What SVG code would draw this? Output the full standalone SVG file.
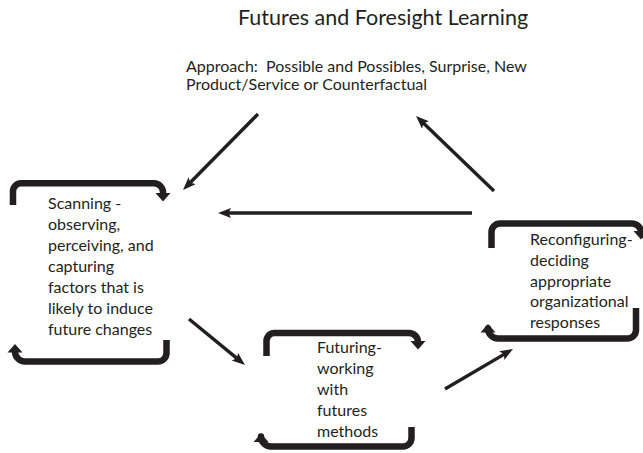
<svg xmlns="http://www.w3.org/2000/svg" width="643" height="453" viewBox="0 0 643 453">
  <style>
    .t { font-family: Lato, "Open Sans", "Liberation Sans", sans-serif; fill: #231f20; }
    .title { font-size: 21.5px; }
    .body { font-size: 16px; }
    .app { font-size: 16px; white-space: pre; }
    .br { fill: none; stroke: #231f20; stroke-width: 6.5; stroke-linecap: butt; stroke-linejoin: round; }
    .bh { fill: #231f20; }
    .c { stroke: #231f20; stroke-width: 3.4; fill: none; }
  </style>
  <defs>
    <marker id="ah" markerUnits="userSpaceOnUse" markerWidth="14" markerHeight="11" refX="5" refY="5" orient="auto">
      <path d="M0,0 L13,5 L0,10 L2.5,5 Z" fill="#231f20"/>
    </marker>
  </defs>
  <rect width="643" height="453" fill="#ffffff"/>

  <g id="title">
    <text class="t title" x="238" y="25">Futures and Foresight Learning</text>
  </g>
  <g id="approach">
    <text class="t app" x="186" y="72">Approach:  Possible and Possibles, Surprise, New</text>
    <text class="t app" x="186" y="90">Product/Service or Counterfactual</text>
  </g>

  <g id="scanning">
    <path class="br" d="M13,205 V191 A8,8 0 0 1 21,183.3 H154 A9,9 0 0 1 163,192.3 V194"/>
    <polygon class="bh" points="155.5,193 170.5,193 163,201.5"/>
    <path class="br" d="M166.5,340 V353 A8.5,8.5 0 0 1 158,361.5 H25 A10,10 0 0 1 15,351.5 V351"/>
    <polygon class="bh" points="7.5,352.5 22.5,352.5 15,344"/>
    <text class="t body" x="48" y="209">Scanning -</text>
    <text class="t body" x="48" y="230">observing,</text>
    <text class="t body" x="48" y="251">perceiving, and</text>
    <text class="t body" x="48" y="272">capturing</text>
    <text class="t body" x="48" y="293">factors that is</text>
    <text class="t body" x="48" y="314">likely to induce</text>
    <text class="t body" x="48" y="335">future changes</text>
  </g>

  <g id="futuring">
    <path class="br" d="M266.5,356 V341 A8,8 0 0 1 274.5,333 H409 A9,9 0 0 1 418,342 V342"/>
    <polygon class="bh" points="410.5,341 425.5,341 418,349.5"/>
    <path class="br" d="M411.5,427 V438 A8.5,8.5 0 0 1 403,446.5 H271 A10,10 0 0 1 261,436.5 V442"/>
    <polygon class="bh" points="253.5,442 268.5,442 261,433.5"/>
    <text class="t body" x="317" y="353">Futuring-</text>
    <text class="t body" x="317" y="374">working</text>
    <text class="t body" x="317" y="395">with</text>
    <text class="t body" x="317" y="416">futures</text>
    <text class="t body" x="317" y="437">methods</text>
  </g>

  <g id="reconfiguring">
    <path class="br" d="M491.5,248 V232 A8.5,8.5 0 0 1 500,223.5 H632 A9,9 0 0 1 641,232.5 V232"/>
    <polygon class="bh" points="633.5,231 648.5,231 641,239.5"/>
    <path class="br" d="M636,308 V330 A8.5,8.5 0 0 1 627.5,338.5 H498 A10,10 0 0 1 488,328.5 V332"/>
    <polygon class="bh" points="480.5,332.5 495.5,332.5 488,324"/>
    <text class="t body" x="530" y="245">Reconfiguring-</text>
    <text class="t body" x="530" y="266">deciding</text>
    <text class="t body" x="530" y="287">appropriate</text>
    <text class="t body" x="530" y="307">organizational</text>
    <text class="t body" x="530" y="328">responses</text>
  </g>

  <g id="connectors">
    <line class="c" x1="258" y1="114" x2="188.6" y2="184.3" marker-end="url(#ah)"/>
    <line class="c" x1="494" y1="191" x2="421.8" y2="121.5" marker-end="url(#ah)"/>
    <line class="c" x1="472" y1="213" x2="226" y2="213" marker-end="url(#ah)"/>
    <line class="c" x1="189" y1="319" x2="238.8" y2="359.9" marker-end="url(#ah)"/>
    <line class="c" x1="445" y1="389" x2="506.1" y2="353.1" marker-end="url(#ah)"/>
  </g>
</svg>
